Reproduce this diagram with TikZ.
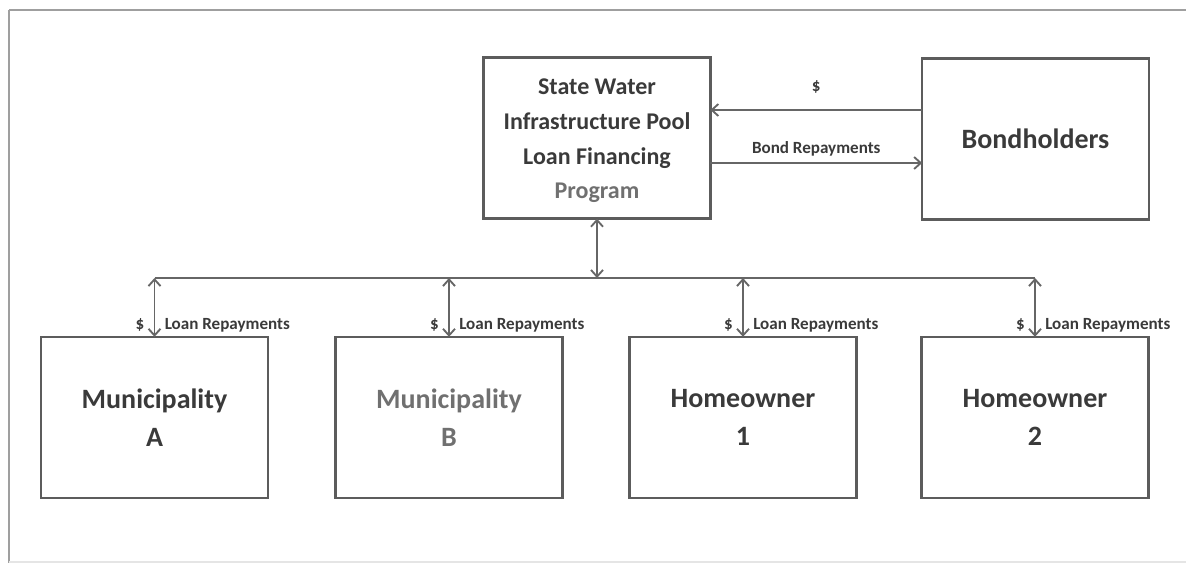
\documentclass[tikz,border=0pt]{standalone}
\usepackage{fontspec}
\setmainfont{Carlito}
\usetikzlibrary{arrows.meta,calc}
\definecolor{boxc}{HTML}{5C5C5C}
\definecolor{arrc}{HTML}{666666}
\definecolor{txtc}{HTML}{3A3A3A}
\definecolor{lighttxt}{HTML}{707070}
\tikzset{
  box/.style={draw=boxc, line width=1.9pt, rectangle, minimum width=170pt, minimum height=121pt,
    align=center, text=txtc, inner sep=0pt, outer sep=0pt},
  bigtxt/.style={font=\bfseries\fontsize{21}{28.5}\selectfont},
  midtxt/.style={font=\bfseries\fontsize{18}{26}\selectfont},
  lbl/.style={font=\bfseries\fontsize{12.8}{14}\selectfont, text=txtc, inner sep=0pt},
  conn/.style={draw=arrc, line width=1.4pt},
  arr/.style={conn, -{Straight Barb[length=5pt,width=9pt]}},
  darr/.style={conn, {Straight Barb[length=5pt,width=9pt]}-{Straight Barb[length=5pt,width=9pt]}},
}
\begin{document}
\begin{tikzpicture}[x=0.75pt,y=-0.75pt]
\useasboundingbox (0,0) rectangle (1186,569);
% frame
\draw[color=gray!75, line width=1.4pt] (9,10) -- (1186,10);
\draw[color=gray!75, line width=1.4pt] (9,10) -- (9,563);
\draw[color=gray!20, line width=1pt] (9,562) -- (1186,562);

% boxes
\node[box] (state) at (597,138) {};
\node[midtxt, text=txtc, align=center, inner sep=0pt] (stateText) at (597,141) {State Water\\Infrastructure Pool\\Loan Financing\\\textcolor{lighttxt}{Program}};
\node[box, bigtxt] (bond) at (1035.5,139) {Bondholders};
\node[box, bigtxt] (mA) at (154.5,417.5) {Municipality\\A};
\node[box, bigtxt, text=lighttxt] (mB) at (449,417.5) {Municipality\\B};
\node[box, bigtxt] (hA) at (743,417.5) {Homeowner\\1};
\node[box, bigtxt] (hB) at (1035,417.5) {Homeowner\\2};

% helper coordinates
\coordinate (ytop) at (0,110);
\coordinate (ybot) at (0,163);
\coordinate (bus) at (597,278);

% top connectors
\draw[arr] (bond.west |- ytop) -- node[midway, lbl, yshift=17pt] {\$} (state.east |- ytop);
\draw[arr] (state.east |- ybot) -- node[midway, lbl, yshift=10.5pt] {Bond Repayments} (bond.west |- ybot);

% bus
\draw[darr] (state.south) -- (bus);
\draw[conn] (mA.north |- bus) -- (hB.north |- bus);

\foreach \b in {mA,mB,hA,hB}{
  \draw[darr] (\b.north |- bus) -- node[pos=0.8, lbl, left=7pt] {\$} node[pos=0.8, lbl, right=7pt] {Loan Repayments} (\b.north);
}
\end{tikzpicture}
\end{document}
